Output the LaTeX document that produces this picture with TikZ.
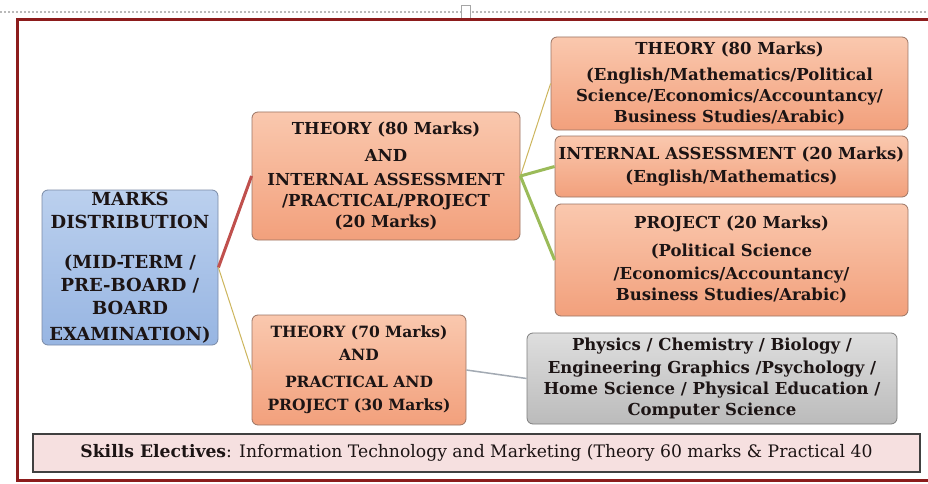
\documentclass[tikz,border=0pt]{standalone}
\usepackage{fontspec}
\setmainfont{DejaVu Serif}
\definecolor{salT}{HTML}{FAC8AE}
\definecolor{salB}{HTML}{F2A07C}
\definecolor{salD}{HTML}{9A7464}
\definecolor{bluT}{HTML}{BBD0EE}
\definecolor{bluB}{HTML}{97B5E2}
\definecolor{bluD}{HTML}{7A8AA6}
\definecolor{gryT}{HTML}{DEDEDE}
\definecolor{gryB}{HTML}{BBBBBB}
\definecolor{gryD}{HTML}{7E7E7E}
\definecolor{pinkF}{HTML}{F6E0E0}
\definecolor{frameR}{HTML}{8C1C1C}
\definecolor{linkRed}{HTML}{C0504D}
\definecolor{linkOlive}{HTML}{CDB65E}
\definecolor{linkGreen}{HTML}{9BBB59}
\definecolor{linkGray}{HTML}{A3AAB3}
\definecolor{txt}{HTML}{1C1414}
\begin{document}
\begin{tikzpicture}[x=1pt,y=-1pt,
  boxbase/.style={rounded corners=6pt, line width=0.8pt, align=center, inner sep=0pt,
     text=txt, font=\bfseries\fontsize{16.5}{21}\selectfont},
  salbox/.style={boxbase, top color=salT, bottom color=salB, draw=salD},
  blubox/.style={boxbase, top color=bluT, bottom color=bluB, draw=bluD},
  grybox/.style={boxbase, top color=gryT, bottom color=gryB, draw=gryD},
  linkA/.style={draw=linkRed, line width=3pt},
  linkB/.style={draw=linkOlive, line width=1pt},
  linkC/.style={draw=linkGreen, line width=3pt},
  linkD/.style={draw=linkGray, line width=1.5pt}]
\useasboundingbox (0,0) rectangle (928,484);
\clip (0,0) rectangle (928,484);
\fill[white] (0,0) rectangle (928,484);
% top dotted rule and marker
\draw[gray!55, line width=1.2pt, dash pattern=on 2pt off 2pt] (0,12) -- (928,12);
\draw[gray!70, fill=white, line width=0.6pt] (461,5) rectangle (470,19);
% outer frame
\draw[frameR, line width=3pt] (17,20) rectangle (940,480);

% nodes
\node[blubox, minimum width=176pt, minimum height=155pt,
  font=\bfseries\fontsize{18}{23}\selectfont] (marks) at (130,267.5)
  {MARKS\\DISTRIBUTION\\[17pt](MID-TERM /\\PRE-BOARD /\\BOARD\\[3pt]EXAMINATION)};
\node[salbox, minimum width=268pt, minimum height=128pt] (mid1) at (386,176)
  {THEORY (80 Marks)\\[6pt]AND\\[3pt]INTERNAL ASSESSMENT\\/PRACTICAL/PROJECT\\(20 Marks)};
\node[salbox, minimum width=214pt, minimum height=110pt,
  font=\bfseries\fontsize{15.5}{21}\selectfont] (mid2) at (359,370)
  {THEORY (70 Marks)\\[2pt]AND\\[6pt]PRACTICAL AND\\[2pt]PROJECT (30 Marks)};
\node[salbox, minimum width=357pt, minimum height=93pt] (r1) at (729.5,83.5)
  {THEORY (80 Marks)\\[5pt](English/Mathematics/Political\\Science/Economics/Accountancy/\\Business Studies/Arabic)};
\node[salbox, minimum width=353pt, minimum height=61pt] (r2) at (731.5,166.5)
  {INTERNAL ASSESSMENT (20 Marks)\\[2pt](English/Mathematics)};
\node[salbox, minimum width=353pt, minimum height=112pt] (r3) at (731.5,260)
  {PROJECT (20 Marks)\\[7pt](Political Science\\[2pt]/Economics/Accountancy/\\Business Studies/Arabic)};
\node[grybox, minimum width=370pt, minimum height=91pt] (gry) at (712,378.5)
  {Physics / Chemistry / Biology /\\[2pt]Engineering Graphics /Psychology /\\Home Science / Physical Education /\\Computer Science};
\node[draw=black!75, fill=pinkF, line width=1.5pt, minimum width=887pt, minimum height=38pt,
  inner sep=0pt, text=txt, font=\fontsize{17.2}{18}\selectfont] (skills) at (476.5,453)
  {\textbf{Skills Electives}: Information Technology and Marketing (Theory 60 marks \& Practical 40};

% connectors
\draw[linkA] (marks.east) -- (mid1.west);
\draw[linkB] (marks.east) -- (mid2.west);
\draw[linkB] (mid1.east) -- (r1.west);
\draw[linkC] (mid1.east) -- (r2.west);
\draw[linkC] (mid1.east) -- (r3.west);
\draw[linkD] (mid2.east) -- (gry.west);
\end{tikzpicture}
\end{document}
